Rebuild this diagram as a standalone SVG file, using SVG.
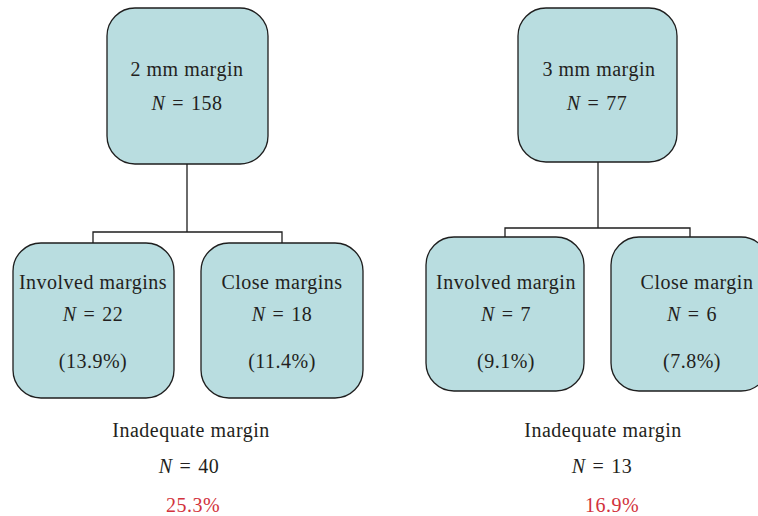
<svg xmlns="http://www.w3.org/2000/svg" width="758" height="516" viewBox="0 0 758 516">
<style>
.box{fill:#b9dde0;stroke:#1e1e1e;stroke-width:1.3}
.t{font-family:"Liberation Serif","Times New Roman",serif;font-size:20px;letter-spacing:0.5px;fill:#231f20;text-anchor:middle}
.i{font-style:italic}
.red{fill:#d2323c}
.c{fill:none;stroke:#1e1e1e;stroke-width:1.3}
</style>
<rect width="758" height="516" fill="#fff"/>
<g id="connectors">
<path class="c" d="M187,164V232M93,243V232H282V243"/>
<path class="c" d="M598,162V228M505,237V228H690V237"/>
</g>
<g id="n2mm">
<rect class="box" x="107" y="8" width="161" height="156" rx="28"/>
<text class="t" x="187" y="76">2 mm margin</text>
<text class="t" x="187" y="110"><tspan class="i">N</tspan> <tspan dx="1.5">=</tspan> <tspan dx="1.5">158</tspan></text>
</g>
<g id="n2inv">
<rect class="box" x="13" y="243" width="161" height="155" rx="28"/>
<text class="t" x="93" y="289">Involved margins</text>
<text class="t" x="93" y="321"><tspan class="i">N</tspan> <tspan dx="1.5">=</tspan> <tspan dx="1.5">22</tspan></text>
<text class="t" x="93" y="368">(13.9%)</text>
</g>
<g id="n2close">
<rect class="box" x="201" y="243" width="162" height="155" rx="28"/>
<text class="t" x="282" y="289">Close margins</text>
<text class="t" x="282" y="321"><tspan class="i">N</tspan> <tspan dx="1.5">=</tspan> <tspan dx="1.5">18</tspan></text>
<text class="t" x="282" y="368">(11.4%)</text>
</g>
<g id="n3mm">
<rect class="box" x="518" y="8" width="159" height="154" rx="28"/>
<text class="t" x="599" y="76">3 mm margin</text>
<text class="t" x="597" y="110"><tspan class="i">N</tspan> <tspan dx="1.5">=</tspan> <tspan dx="1.5">77</tspan></text>
</g>
<g id="n3inv">
<rect class="box" x="426" y="237" width="158" height="154" rx="28"/>
<text class="t" x="506" y="289">Involved margin</text>
<text class="t" x="506" y="321"><tspan class="i">N</tspan> <tspan dx="1.5">=</tspan> <tspan dx="1.5">7</tspan></text>
<text class="t" x="506" y="368">(9.1%)</text>
</g>
<g id="n3close">
<rect class="box" x="611" y="237" width="158" height="154" rx="28"/>
<text class="t" x="697" y="289">Close margin</text>
<text class="t" x="692" y="321"><tspan class="i">N</tspan> <tspan dx="1.5">=</tspan> <tspan dx="1.5">6</tspan></text>
<text class="t" x="692" y="368">(7.8%)</text>
</g>
<g id="sum2">
<text class="t" x="191" y="437">Inadequate margin</text>
<text class="t" x="189" y="473"><tspan class="i">N</tspan> <tspan dx="1.5">=</tspan> <tspan dx="1.5">40</tspan></text>
<text class="t red" x="193" y="512">25.3%</text>
</g>
<g id="sum3">
<text class="t" x="603" y="437">Inadequate margin</text>
<text class="t" x="602" y="473"><tspan class="i">N</tspan> <tspan dx="1.5">=</tspan> <tspan dx="1.5">13</tspan></text>
<text class="t red" x="612" y="512">16.9%</text>
</g>
</svg>
